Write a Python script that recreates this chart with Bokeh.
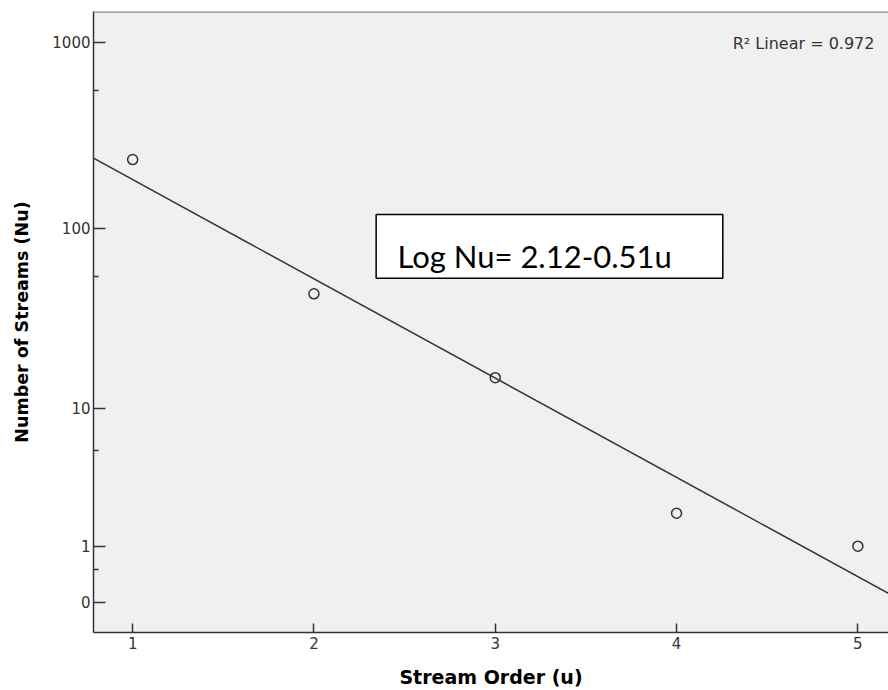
import numpy as np
from bokeh.plotting import figure
from bokeh.models import (Range1d, FixedTicker, CustomJSTickFormatter,
                          BoxAnnotation, Label, Span)
from bokeh.embed import file_html
from bokeh.resources import INLINE

# Stream order (u) and the number of streams (Nu) of each order
stream_order = [1, 2, 3, 4, 5]
stream_count = [235, 44, 15, 2, 1]

# Axis ticks (y is drawn on a log10(Nu + 1) scale, labelled in Nu)
x_ticks = [1, 2, 3, 4, 5]
y_tick_counts = [0, 1, 10, 100, 1000]
y_minor_counts = [0.5, 5.5, 55, 550]

r2_text = "R\u00b2 Linear = 0.972"
equation_text = "Log Nu= 2.12-0.51u"

X_START, X_END = 0.784, 5.169
Y_START, Y_END = 0.689, 1467.0

TEXT_DARK = "#333333"
TICK_FONT = "DejaVu Sans"

p = figure(width=888, height=690, output_backend="svg", toolbar_location=None,
           x_range=Range1d(X_START, X_END), y_range=Range1d(Y_START, Y_END),
           y_axis_type="log",
           min_border_left=93, min_border_right=0,
           min_border_top=11, min_border_bottom=57)
p.background_fill_color = "#f0f0f0"
p.border_fill_color = "white"
p.outline_line_color = None
p.xgrid.visible = False
p.ygrid.visible = False

# shifted counts so that zero can sit on the log axis
shifted = np.array(stream_count, dtype=float) + 1.0

# least-squares fit of log10(Nu + 1) against order
slope, intercept = np.polyfit(stream_order, np.log10(shifted), 1)
fit_x = np.array([X_START, X_END])
fit_y = 10 ** (intercept + slope * fit_x)
p.line(fit_x, fit_y, line_color=TEXT_DARK, line_width=1.5)

p.scatter(stream_order, shifted, marker="circle", size=10,
          fill_color=None, line_color=TEXT_DARK, line_width=1.5)

# x axis
xa = p.xaxis[0]
xa.ticker = FixedTicker(ticks=x_ticks)
xa.major_tick_in = 9
xa.major_tick_out = 0
xa.minor_tick_in = 0
xa.minor_tick_out = 0
xa.axis_line_color = TEXT_DARK
xa.axis_line_width = 1.5
xa.major_tick_line_color = TEXT_DARK
xa.major_tick_line_width = 1.5
xa.major_label_text_font = TICK_FONT
xa.major_label_text_font_size = "15px"
xa.major_label_text_color = TEXT_DARK
xa.major_label_standoff = 4
xa.axis_label = "Stream Order (u)"
xa.axis_label_text_font = "DejaVu Sans"
xa.axis_label_text_font_style = "bold"
xa.axis_label_text_font_size = "19px"
xa.axis_label_text_color = "black"
xa.axis_label_standoff = 14

# y axis
ya = p.yaxis[0]
ya.ticker = FixedTicker(ticks=[c + 1 for c in y_tick_counts],
                        minor_ticks=[c + 1 for c in y_minor_counts])
ya.formatter = CustomJSTickFormatter(code="return String(Math.round(tick - 1));")
ya.major_tick_in = 12
ya.major_tick_out = 0
ya.minor_tick_in = 5
ya.minor_tick_out = 0
ya.axis_line_color = TEXT_DARK
ya.axis_line_width = 1.5
ya.major_tick_line_color = TEXT_DARK
ya.major_tick_line_width = 1.5
ya.minor_tick_line_color = TEXT_DARK
ya.minor_tick_line_width = 1.5
ya.major_label_text_font = TICK_FONT
ya.major_label_text_font_size = "15px"
ya.major_label_text_color = TEXT_DARK
ya.major_label_standoff = 3
ya.axis_label = "Number of Streams (Nu)"
ya.axis_label_text_font = "DejaVu Sans"
ya.axis_label_text_font_style = "bold"
ya.axis_label_text_font_size = "17.5px"
ya.axis_label_text_color = "black"
ya.axis_label_standoff = 17

# top edge of the plot frame
p.add_layout(Span(location=Y_END, dimension="width",
                  line_color="#8c8c8c", line_width=2.5))

# R squared note
p.add_layout(Label(x=5.0916, y=988, text=r2_text, text_align="right",
                   text_baseline="alphabetic", text_font="DejaVu Sans",
                   text_font_size="16px", text_color=TEXT_DARK))

# equation box
p.add_layout(BoxAnnotation(left=2.343, right=4.255, bottom=54.5, top=119.8,
                           fill_color="white", fill_alpha=1.0,
                           line_color="black", line_alpha=1.0,
                           line_width=1.5))
p.add_layout(Label(x=2.4605, y=71.7, text=equation_text,
                   text_baseline="alphabetic", text_font="Lato",
                   text_font_size="31px", text_color="black"))

open("out.html", "w").write(file_html(p, INLINE))
